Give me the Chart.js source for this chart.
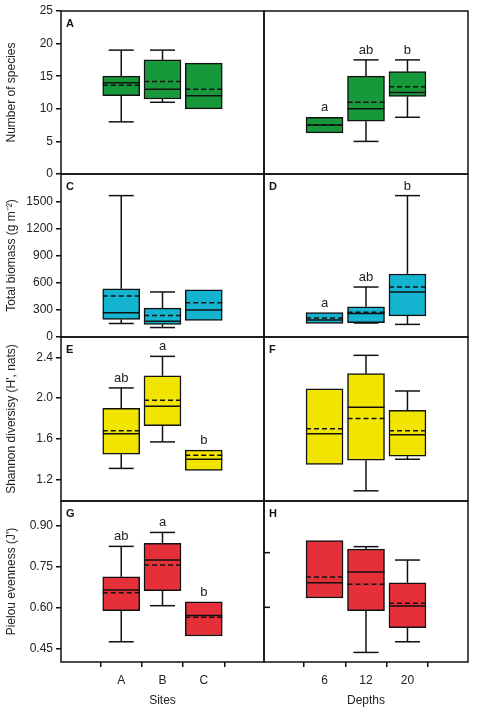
<!DOCTYPE html>
<html><head><meta charset="utf-8">
<script src="https://cdn.jsdelivr.net/npm/chart.js@4"></script>
<style>
body{margin:0;background:#fff;width:479px;height:712px;overflow:hidden}
canvas{position:absolute;left:0;top:0}
</style></head><body>
<script>
// category labels
const sites = ['A', 'B', 'C'];
const depths = ['6', '12', '20'];
// each row: [min, q1, median, mean, q3, max]
const speciesSites = [[8, 12, 14, 13.6, 15, 19], [11, 11.5, 13, 14.2, 17.5, 19], [10, 10, 12, 13, 17, 17]];
const speciesDepths = [[6.3, 6.3, 7.5, 7.5, 8.7, 8.7], [5, 8.1, 10, 11, 15, 17.5], [8.7, 11.9, 12.5, 13.4, 15.7, 17.5]];
const biomassSites = [[150, 195, 270, 455, 535, 1570], [105, 140, 175, 240, 320, 500], [185, 185, 300, 380, 525, 525]];
const biomassDepths = [[150, 150, 190, 210, 270, 270], [155, 160, 260, 275, 335, 555], [140, 235, 500, 555, 700, 1570]];
const shannonSites = [[1.31, 1.45, 1.65, 1.68, 1.90, 2.10], [1.57, 1.73, 1.92, 1.98, 2.22, 2.41], [1.29, 1.29, 1.40, 1.44, 1.49, 1.49]];
const shannonDepths = [[1.35, 1.35, 1.65, 1.70, 2.09, 2.09], [1.09, 1.39, 1.91, 1.80, 2.24, 2.42], [1.40, 1.43, 1.64, 1.68, 1.88, 2.07]];
const pielouSites = [[0.474, 0.588, 0.663, 0.653, 0.712, 0.823], [0.606, 0.661, 0.773, 0.755, 0.834, 0.874], [0.495, 0.495, 0.57, 0.564, 0.62, 0.62]];
const pielouDepths = [[0.634, 0.634, 0.69, 0.711, 0.844, 0.844], [0.435, 0.588, 0.729, 0.684, 0.813, 0.822], [0.474, 0.526, 0.605, 0.615, 0.69, 0.773]];
// significance letters
const speciesDepthLetters = ['a', 'ab', 'b'];
const biomassDepthLetters = ['a', 'ab', 'b'];
const shannonSiteLetters = ['ab', 'a', 'b'];
const pielouSiteLetters = ['ab', 'a', 'b'];

const rows = [[11, 174], [174, 337], [337, 501], [501, 662]];
const FONT = 'Liberation Sans, Arial, sans-serif';

const boxPlugin = {
  id: 'boxes',
  afterDatasetsDraw(chart, args, o) {
    const { ctx, chartArea: a } = chart;
    const x = chart.scales.x, y = chart.scales.y;
    ctx.save();
    ctx.strokeStyle = '#111';
    ctx.lineWidth = 1.5;
    o.stats.forEach((s, i) => {
      const cx = x.getPixelForValue(i);
      const hw = 18.5, cap = 12.5;
      const line = (x1, y1, x2, y2) => { ctx.beginPath(); ctx.moveTo(x1, y1); ctx.lineTo(x2, y2); ctx.stroke(); };
      if (s[5] > s[4]) { line(cx, y.getPixelForValue(s[4]), cx, y.getPixelForValue(s[5])); line(cx - cap, y.getPixelForValue(s[5]), cx + cap, y.getPixelForValue(s[5])); }
      if (s[0] < s[1]) { line(cx, y.getPixelForValue(s[1]), cx, y.getPixelForValue(s[0])); line(cx - cap, y.getPixelForValue(s[0]), cx + cap, y.getPixelForValue(s[0])); }
      line(cx - hw, y.getPixelForValue(s[2]), cx + hw, y.getPixelForValue(s[2]));
      ctx.setLineDash([5, 3]);
      line(cx - hw, y.getPixelForValue(s[3]), cx + hw, y.getPixelForValue(s[3]));
      ctx.setLineDash([]);
      if (o.letters) {
        ctx.fillStyle = '#222';
        ctx.font = '13px ' + FONT;
        ctx.textAlign = 'center';
        ctx.textBaseline = 'alphabetic';
        ctx.fillText(o.letters[i], cx, y.getPixelForValue(s[5]) - 6);
      }
    });
    // panel frame
    ctx.lineWidth = 1.5;
    ctx.strokeRect(a.left, a.top, a.right - a.left, a.bottom - a.top);
    if (o.tag) {
      ctx.fillStyle = '#111';
      ctx.font = 'bold 11px ' + FONT;
      ctx.textAlign = 'left';
      ctx.textBaseline = 'top';
      ctx.fillText(o.tag, a.left + 5, a.top + 7);
    }
    if (o.innerTicks) {
      o.innerTicks.forEach(v => {
        const py = y.getPixelForValue(v);
        ctx.beginPath(); ctx.moveTo(a.left, py); ctx.lineTo(a.left + 6, py); ctx.stroke();
      });
    }
    ctx.restore();
  }
};

function panel(cfg) {
  const cv = document.createElement('canvas');
  cv.width = 479; cv.height = 712;
  cv.style.width = '479px'; cv.style.height = '712px';
  document.body.appendChild(cv);
  const left = cfg.side === 0;
  const [top, bottom] = rows[cfg.row];
  const last = cfg.row === 3;
  const labels = left ? sites : depths;
  new Chart(cv, {
    type: 'bar',
    data: {
      datasets: [{
        data: cfg.stats.map((s, i) => ({ x: i, y: [s[1], s[4]] })),
        backgroundColor: cfg.color,
        borderColor: '#111',
        borderWidth: 1.5,
        borderSkipped: false,
        barThickness: 37
      }]
    },
    plugins: [boxPlugin],
    options: {
      responsive: false,
      animation: false,
      events: [],
      layout: { padding: { left: left ? 0 : 264, right: left ? 479 - 264 : 11, top: top, bottom: last ? 0 : 712 - bottom } },
      plugins: {
        legend: { display: false }, tooltip: { enabled: false },
        boxes: { stats: cfg.stats, letters: cfg.letters, tag: cfg.tag, innerTicks: cfg.innerTicks }
      },
      scales: {
        x: {
          type: 'linear', min: -0.64, max: 2.64,
          display: last,
          afterBuildTicks: s => { s.ticks = [0, 1, 2].map(v => ({ value: v })); },
          afterFit: s => { s.height = last ? 50 : 0; },
          ticks: { callback: v => labels[v], color: '#222', font: { family: FONT, size: 12 }, padding: 6 },
          grid: { drawOnChartArea: false, tickLength: 5, color: '#111', lineWidth: 1.5 },
          border: { display: false },
          title: { display: true, text: left ? 'Sites' : 'Depths', color: '#222', font: { family: FONT, size: 12 }, padding: { top: 6 } }
        },
        y: {
          min: cfg.ymin, max: cfg.ymax,
          display: left,
          afterBuildTicks: s => { s.ticks = cfg.ticks.map(v => ({ value: v })); },
          afterFit: s => { s.width = left ? 61 : 0; },
          ticks: { callback: v => cfg.fmt(v), color: '#222', font: { family: FONT, size: 12 }, padding: 3 },
          grid: { drawOnChartArea: false, tickLength: 5, color: '#111', lineWidth: 1.5 },
          border: { display: false },
          title: { display: true, text: cfg.title, color: '#222', font: { family: FONT, size: 12 }, padding: { bottom: 2 } }
        }
      }
    }
  });
}

const green = '#17983a', cyan = '#14b3cf', yellow = '#f1e500', red = '#e5303a';
const int = v => String(v);
panel({ side: 0, row: 0, stats: speciesSites, color: green, tag: 'A', ymin: 0, ymax: 25, ticks: [0, 5, 10, 15, 20, 25], fmt: int, title: 'Number of species' });
panel({ side: 1, row: 0, stats: speciesDepths, color: green, letters: speciesDepthLetters, ymin: 0, ymax: 25, ticks: [] , fmt: int });
panel({ side: 0, row: 1, stats: biomassSites, color: cyan, tag: 'C', ymin: 0, ymax: 1810, ticks: [0, 300, 600, 900, 1200, 1500], fmt: int, title: 'Total biomass (g m\u207B\u00B2)' });
panel({ side: 1, row: 1, stats: biomassDepths, color: cyan, tag: 'D', letters: biomassDepthLetters, ymin: 0, ymax: 1810, ticks: [], fmt: int });
panel({ side: 0, row: 2, stats: shannonSites, color: yellow, tag: 'E', letters: shannonSiteLetters, ymin: 0.99, ymax: 2.6, ticks: [1.2, 1.6, 2.0, 2.4], fmt: v => v.toFixed(1), title: "Shannon diversisy (H', nats)" });
panel({ side: 1, row: 2, stats: shannonDepths, color: yellow, tag: 'F', ymin: 0.99, ymax: 2.6, ticks: [], fmt: int });
panel({ side: 0, row: 3, stats: pielouSites, color: red, tag: 'G', letters: pielouSiteLetters, ymin: 0.40, ymax: 0.989, ticks: [0.45, 0.60, 0.75, 0.90], fmt: v => v.toFixed(2), title: "Pielou evenness (J')" });
panel({ side: 1, row: 3, stats: pielouDepths, color: red, tag: 'H', innerTicks: [0.80, 0.60], ymin: 0.40, ymax: 0.989, ticks: [], fmt: int });
</script>
</body></html>
